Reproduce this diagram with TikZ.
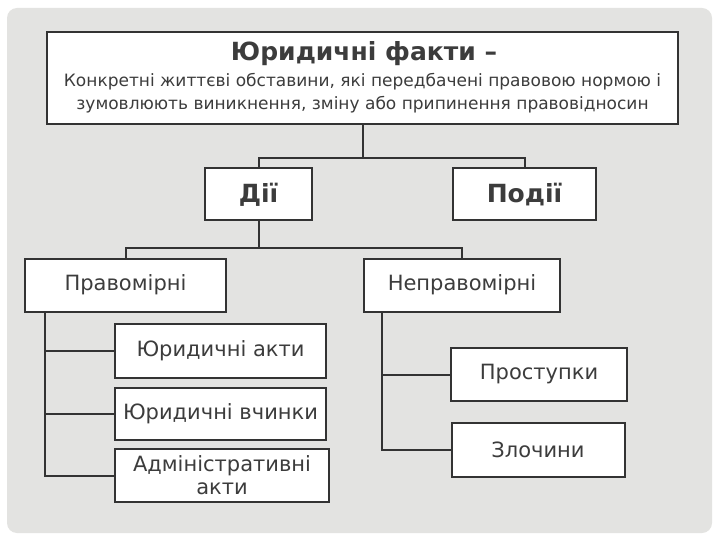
\documentclass[tikz,border=0pt]{standalone}
\usepackage{fontspec}
\setmainfont{DejaVu Sans}
\definecolor{bg}{HTML}{E3E3E1}
\definecolor{ink}{HTML}{333333}
\definecolor{txt}{HTML}{3C3C3C}
\begin{document}
\begin{tikzpicture}[x=1pt,y=-1pt,
  box/.style={draw=ink,line width=2pt,fill=white,inner sep=0pt,align=center,text=txt},
  bodyfont/.style={font=\fontsize{21}{25}\selectfont},
  headfont/.style={font=\bfseries\fontsize{25}{29}\selectfont},
  conn/.style={draw=ink,line width=2pt}]
\useasboundingbox (0,0) rectangle (720,540);
\fill[white] (0,0) rectangle (720,540);
\fill[bg,rounded corners=10pt] (7,8) rectangle (712,533);
\node[box,minimum width=631pt,minimum height=92pt] (top) at (362.5,78) {};
\node[text=txt,font=\bfseries\fontsize{25}{29}\selectfont] (title) at (364,54) {Юридичні факти –};
\node[text=txt,align=center,font=\fontsize{17}{23}\selectfont] (desc) at (362.5,93) {Конкретні життєві обставини, які передбачені правовою нормою і\\зумовлюють виникнення, зміну або припинення правовідносин};
\node[box,headfont,minimum width=107pt,minimum height=52pt] (dii) at (258.5,194.5) {Дії};
\node[box,headfont,minimum width=143pt,minimum height=52pt] (podii) at (524.5,194.5) {Події};
\node[box,bodyfont,minimum width=201pt,minimum height=53pt] (prav) at (125.5,285) {Правомірні};
\node[box,bodyfont,minimum width=196pt,minimum height=53pt] (neprav) at (462,285) {Неправомірні};
\node[box,bodyfont,minimum width=211pt,minimum height=54pt] (akty) at (220.5,351) {Юридичні акти};
\node[box,bodyfont,minimum width=211pt,minimum height=52pt] (vchynky) at (220.5,414) {Юридичні вчинки};
\node[box,minimum width=214pt,minimum height=53pt,font=\fontsize{21}{23}\selectfont] (admin) at (222,475.5) {Адміністративні\\акти};
\node[box,bodyfont,minimum width=176pt,minimum height=53pt] (prost) at (539,374.5) {Проступки};
\node[box,bodyfont,minimum width=173pt,minimum height=54pt] (zloch) at (538,450) {Злочини};
\coordinate (j1) at ([yshift=-33pt]top.south);
\draw[conn] (top.south) -- (j1) -| (dii.north);
\draw[conn] (j1) -| (podii.north);
\coordinate (j2) at ([yshift=-26pt]dii.south);
\draw[conn] (dii.south) -- (j2) -| (prav.north);
\draw[conn] (j2) -| (neprav.north);
\coordinate (pl) at ([xshift=21pt]prav.south west);
\draw[conn] (pl) |- (akty.west);
\draw[conn] (pl) |- (vchynky.west);
\draw[conn] (pl) |- (admin.west);
\coordinate (pr) at ([xshift=19pt]neprav.south west);
\draw[conn] (pr) |- (prost.west);
\draw[conn] (pr) |- (zloch.west);
\end{tikzpicture}
\end{document}
